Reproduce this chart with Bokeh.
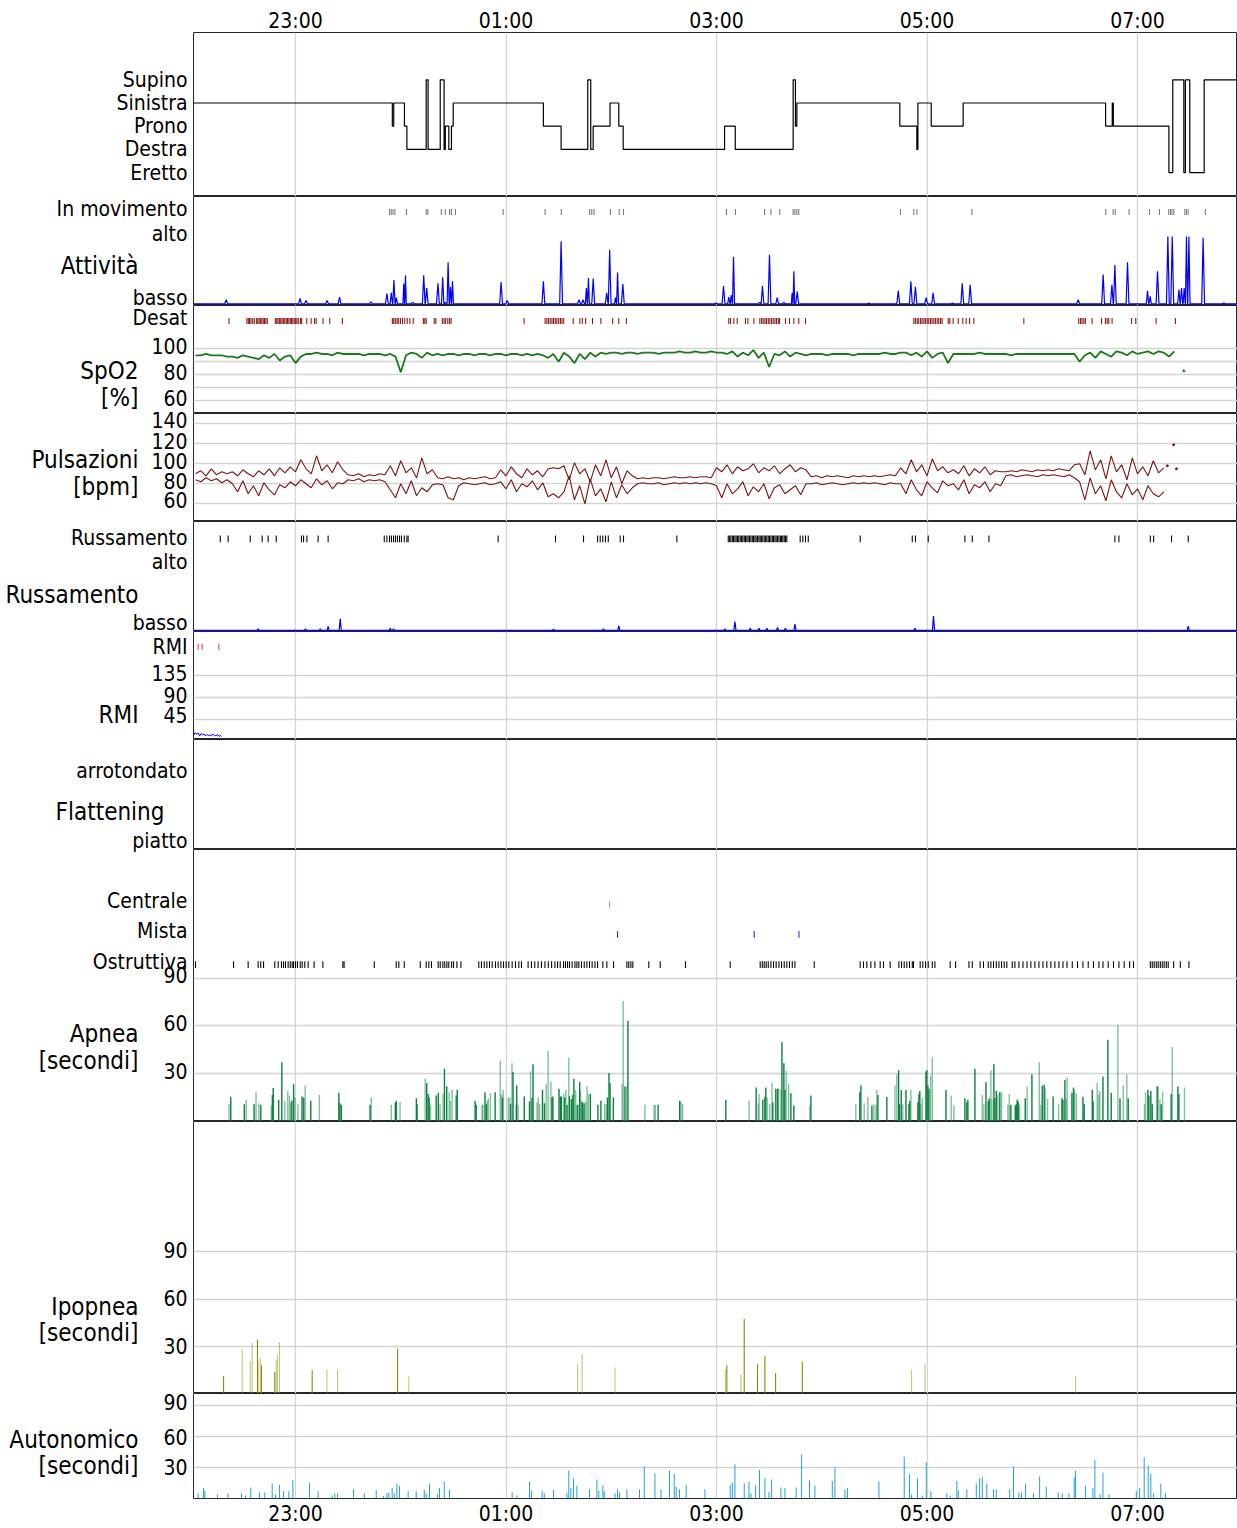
from bokeh.plotting import figure
from bokeh.models import Range1d, FixedTicker
from bokeh.layouts import column, row
from bokeh.embed import file_html
from bokeh.resources import INLINE
from bokeh.core.properties import value

FONT = "DejaVu Sans Condensed"

# ---------------- time axis (minutes after 22:00) ----------------
X_START, X_END = 1.85, 597.0
XTICKS = [60, 180, 300, 420, 540]
XTICK_LABELS = ["23:00", "01:00", "03:00", "05:00", "07:00"]

# ---------------- position ----------------
POS_TICKS = [5, 4, 3, 2, 1]
POS_NAMES = ["Supino", "Sinistra", "Prono", "Destra", "Eretto"]
pos_t = [1.85, 115.2, 116.0, 122.1, 123.5, 134.5, 135.6, 142.5, 144.7, 145.4,
         147.4, 148.9, 149.9, 201.3, 211.4, 226.6, 228.3, 229.7, 239.3, 244.3,
         246.8, 304.6, 310.7, 343.7, 345.0, 345.8, 404.5, 414.2, 414.8, 422.4,
         440.6, 521.8, 525.6, 526.2, 557.9, 560.1, 566.4, 567.3, 569.8, 578.0]
pos_lv = [4, 3, 4, 3, 2, 5, 2, 5, 2, 3,
          2, 3, 4, 3, 2, 5, 2, 3, 4, 3,
          2, 3, 2, 5, 3, 4, 3, 2, 4, 3,
          4, 3, 4, 3, 1, 5, 1, 5, 1, 5]

# ---------------- activity ----------------
move_t = [113.6, 114.6, 115.6, 116.7, 123.3, 134.5, 135.4, 143.1, 145.4, 147.8,
          148.9, 151.2, 178.4, 202.3, 211.5, 227.7, 228.9, 230.2, 239.5, 244.5,
          247.0, 305.7, 310.8, 327.4, 331.0, 336.1, 343.7, 344.7, 345.8, 346.9,
          404.9, 412.5, 414.2, 445.6, 521.9, 526.1, 527.3, 535.2, 546.8, 552.5,
          557.8, 558.8, 559.7, 560.7, 567.0, 567.9, 568.9, 578.7]
act_t = [20.5, 62.6, 66.0, 78.0, 85.1, 103.0, 112.1, 114.6, 116.1, 117.5,
         121.7, 122.7, 126.7, 133.1, 134.8, 141.2, 143.9, 145.4, 147.0, 148.3,
         149.5, 177.2, 180.7, 201.3, 211.4, 221.6, 223.9, 225.8, 227.0, 229.7,
         237.4, 239.1, 242.4, 243.6, 246.6, 299.6, 304.0, 307.0, 308.4, 309.7,
         324.5, 326.2, 330.2, 334.6, 338.4, 343.1, 344.1, 346.0, 386.8, 403.6,
         410.8, 413.4, 419.5, 423.5, 434.5, 440.1, 444.6, 506.2, 520.4, 525.4,
         527.1, 534.3, 545.7, 547.2, 551.4, 557.3, 559.8, 563.6, 565.1, 566.6,
         567.9, 569.3, 577.4, 589.2]
act_v = [0.07, 0.09, 0.06, 0.06, 0.11, 0.04, 0.16, 0.17, 0.36, 0.10,
         0.31, 0.43, 0.03, 0.43, 0.24, 0.31, 0.40, 0.03, 0.62, 0.26,
         0.34, 0.33, 0.06, 0.34, 0.93, 0.07, 0.07, 0.24, 0.39, 0.38,
         0.17, 0.80, 0.10, 0.47, 0.30, 0.02, 0.27, 0.11, 0.14, 0.70,
         0.03, 0.27, 0.73, 0.10, 0.03, 0.17, 0.49, 0.19, 0.02, 0.20,
         0.34, 0.26, 0.10, 0.17, 0.02, 0.31, 0.29, 0.07, 0.44, 0.29,
         0.58, 0.62, 0.20, 0.12, 0.49, 1.0, 1.0, 0.22, 0.24, 0.24,
         1.0, 1.0, 0.98, 0.02]

# ---------------- SpO2 (every 3 min from 3) ----------------
desat_t = [22.1, 32.3, 33.1, 33.8, 34.6, 35.6, 36.5, 37.7, 38.5, 39.2, 40.0, 40.8, 41.6, 42.3, 43.1, 43.9,
           48.5, 49.3, 50.0, 50.8, 51.6, 52.3, 53.1, 53.9, 54.7, 55.4, 56.2, 57.0, 57.7, 58.5, 59.3, 60.1,
           60.8, 61.6, 62.8, 63.5, 66.4, 68.9, 70.8, 71.8, 75.7, 79.5, 86.7,
           115.2, 116.0, 116.9, 117.9, 118.6, 119.8, 121.0, 122.3, 123.7, 125.2, 127.1, 132.9, 133.7, 134.5,
           139.1, 140.0, 143.7, 144.7, 145.6, 146.8, 147.8, 148.7, 190.3,
           202.3, 203.3, 204.2, 205.2, 206.2, 207.1, 208.1, 209.0, 210.0, 211.0, 211.9, 212.9,
           218.3, 222.1, 223.5, 225.4, 229.3, 234.1, 240.8, 244.3, 248.6,
           307.0, 308.0, 309.9, 311.8, 316.5, 317.9, 321.3, 324.7, 325.7, 326.6, 327.6, 328.5, 329.5,
           330.4, 331.4, 332.3, 333.3, 334.2, 335.2, 335.9, 339.3, 341.6, 344.1, 346.9, 350.7,
           412.5, 413.4, 414.4, 415.3, 416.3, 417.2, 418.2, 419.1, 420.1, 421.0, 422.0, 422.9, 423.9,
           424.8, 425.8, 426.7, 427.7, 428.6, 432.1, 433.0, 434.9, 437.8, 440.4, 442.3, 444.2, 446.7,
           475.2, 506.5, 507.5, 508.4, 509.4, 510.3, 514.1, 519.5, 521.7, 522.7, 523.6, 525.5,
           536.6, 539.0, 550.6, 561.6]
spo2_v = [95, 95, 96, 95, 95, 95, 94, 94, 93, 95, 94, 93,
          92, 95, 93, 96, 91, 94, 95, 89, 94,
          96, 96, 97, 96, 96, 95, 97, 96,
          96, 96, 96, 95, 96, 96, 96, 95, 96,
          94, 82, 95, 97, 96, 93, 97, 95,
          96, 95, 96, 96, 95, 96, 96, 95, 96, 96, 95, 96,
          96, 95, 96, 96, 95, 96, 95, 96, 95,
          93, 96, 90, 97, 94, 89, 96, 92, 97, 94,
          97, 96, 97, 97, 96, 97, 97, 96, 97, 97, 97, 96, 97, 97, 97, 98, 97, 97, 98, 97, 97, 98, 97, 97,
          96, 98, 94, 97, 95, 99, 93, 97, 86, 96, 95, 98, 94, 97, 96, 95,
          96, 96, 96, 95, 96, 96, 96, 96, 95, 96, 96, 96, 96, 96, 97, 96, 96, 97, 97,
          95, 97, 94, 98, 93, 96, 97, 89, 96,
          96, 96, 96, 96, 97, 96, 96, 96, 96, 96, 95, 96, 96, 96, 96, 96, 96, 96, 96, 96, 96, 96, 96,
          90, 95, 97, 93, 98, 96, 94, 98, 97, 95, 98, 96, 97, 98, 96, 98, 97, 94, 98]
spo2_stray_t = [566.4]
spo2_stray_v = [83]

# ---------------- pulse (every 3 min from 3) ----------------
pulse_hi = [90, 93, 88, 95, 89, 92, 90,
            92, 88, 94, 90, 87, 93, 89, 95, 88, 96, 91,
            97, 92, 104, 95, 90, 108, 93, 99, 91, 102, 94,
            89, 88, 90, 87, 89, 88, 90, 89,
            98, 88, 103, 91, 96, 86, 106, 90, 94,
            86, 85, 87, 85, 86, 84, 86, 85, 86, 87, 85, 86,
            94, 88, 97, 90, 86, 95, 89, 93, 87,
            95, 96, 95,
            98, 84, 101, 90, 95, 82, 99, 88, 104, 86, 97, 80, 93, 88,
            85, 86, 85, 86, 86, 85, 86, 87, 86, 86, 87, 86, 87, 87, 86,
            96, 92, 99, 90, 97, 93, 95, 100, 91, 96, 93, 98, 90, 95, 99, 92, 96, 94,
            87, 88, 86, 88, 87, 88, 87, 86, 88, 87, 88, 87, 88, 87, 88, 89, 88,
            96, 90, 104, 92, 99, 88, 105, 93, 97, 91,
            94, 90, 98, 88, 95, 91, 97, 89, 93, 92,
            92, 93, 92, 94, 93, 92, 94, 93, 94, 93, 95, 94, 93, 99,
            100, 89, 113, 94, 104, 85, 108, 92, 99, 84, 106, 90, 97, 88, 103, 91, 96]
pulse_lo = [84, 82, 86, 83, 85, 81, 84,
            80, 72, 83, 70, 78, 68, 81, 74, 69, 79, 76,
            82, 78, 84, 80, 76, 85, 79, 83, 75, 81, 80,
            84, 83, 85, 82, 84, 83, 84, 82,
            74, 66, 80, 70, 83, 68, 76, 72, 79,
            80, 79, 66, 64, 78, 81, 80, 79, 80, 81, 79, 80,
            82, 75, 84, 72, 80, 77, 83, 74, 81,
            67, 70, 66,
            72, 88, 64, 78, 60, 85, 68, 75, 62, 82, 66, 79, 70, 76,
            80, 81, 80, 80, 81, 79, 80, 81, 80, 81, 80, 81, 80, 81, 80,
            78, 66, 80, 70, 75, 82, 68, 77, 72, 80, 65, 76, 79, 70, 74, 78, 69, 80,
            80, 81, 79, 80, 81, 80, 79, 80, 81, 80, 81, 80, 81, 80, 79, 81, 80,
            80, 70, 84, 74, 68, 82, 76, 71, 83, 78,
            80, 74, 84, 70, 79, 76, 82, 72, 80, 78,
            88, 89, 87, 88, 89, 88, 87, 89, 88, 89, 88, 87, 89, 86,
            82, 64, 86, 70, 78, 63, 84, 72, 66, 80, 69, 75, 64, 78, 70, 67, 72]
pulse_stray_t = [557.0, 560.6, 562.2]
pulse_stray_v = [98, 119, 95]

# ---------------- snoring ----------------
snore_ev_t = [17.1, 21.6, 34.2, 41.0, 44.4, 49.0, 63.4, 64.6, 66.5, 72.9, 78.6,
              110.6, 112.1, 113.6, 114.7, 115.9, 117.0, 118.1, 119.3, 120.4, 122.0, 123.5, 124.2,
              175.5, 208.2, 224.2, 232.2, 233.7, 235.2, 236.7, 238.3, 245.1, 247.0, 277.4,
              306.7, 307.5, 308.2, 309.0, 309.7, 310.5, 311.2, 312.0, 312.7, 313.5, 314.3, 315.0,
              315.8, 316.5, 317.3, 318.0, 318.8, 319.6, 320.4, 321.1, 321.9, 322.6, 323.4, 324.2,
              324.9, 325.6, 326.4, 327.2, 328.0, 328.7, 329.5, 330.2, 331.0, 331.8, 332.5, 333.3,
              334.0, 334.8, 335.6, 336.4, 337.1, 337.8, 338.6, 339.3, 340.1,
              347.7, 349.2, 350.7, 352.3, 381.9, 411.6, 413.4, 420.7, 441.6, 445.8, 455.3,
              527.1, 529.4, 547.3, 549.2, 559.4, 568.9]
snore_t = [38.7, 65.7, 74.1, 78.6, 85.5, 114.0, 115.9, 207.1, 235.6, 244.3,
           304.8, 310.5, 319.2, 324.2, 328.7, 334.8, 339.3, 344.7, 413.1, 423.7, 568.9]
snore_v = [0.03, 0.03, 0.03, 0.065, 0.18, 0.04, 0.03, 0.025, 0.03, 0.075,
           0.03, 0.14, 0.04, 0.04, 0.04, 0.05, 0.04, 0.10, 0.04, 0.22, 0.07]

# ---------------- RMI ----------------
rmi_ev_t = [4.5, 6.8, 16.3]
rmi_t = [2.0, 2.8, 3.7, 4.5, 5.4, 6.2, 7.1, 7.9, 8.8, 9.6,
         10.5, 11.3, 12.2, 13.0, 13.9, 14.7, 15.6, 16.4, 17.3, 17.9]
rmi_v = [13, 19, 15, 18, 12, 17, 14, 16, 12, 15,
         13, 14, 12, 16, 13, 12, 15, 11, 13, 11]

# ---------------- apnea ----------------
centrale_t = [239.0]
mista_t = [243.6, 321.5, 347.0]
ostruttiva_t = [3.0, 24.7, 33.0, 38.7, 40.2, 41.8, 48.2, 50.1, 52.0, 53.2, 54.3, 55.8, 57.0, 58.1,
                58.9, 60.0, 61.1, 62.7, 63.8, 65.3, 67.2, 70.6, 75.6, 87.0, 87.7, 104.9, 117.4,
                118.9, 122.0, 131.1, 134.5, 136.0, 137.5, 141.3, 142.5, 144.0, 145.1, 146.3,
                147.4, 149.0, 150.1, 152.0, 154.3, 164.5, 166.0, 167.6, 169.1, 170.6, 172.1,
                174.0, 175.5, 177.1, 178.6, 180.1, 181.6, 183.5, 185.4, 187.3, 188.8, 192.6,
                194.5, 196.4, 198.3, 200.2, 202.2, 204.1, 206.0, 207.9, 209.4, 210.9, 212.8,
                213.9, 215.1, 216.2, 217.7, 219.3, 220.4, 221.5, 223.0, 224.6, 226.1, 227.6,
                229.1, 230.7, 232.2, 235.2, 237.5, 241.3, 248.9, 250.0, 251.2, 252.3, 261.4,
                267.9, 282.3, 307.8, 324.9, 326.1, 327.2, 328.3, 329.5, 331.0, 332.5, 334.0,
                335.6, 337.1, 338.6, 340.1, 341.6, 343.2, 344.7, 355.7, 381.9, 383.8, 385.7,
                388.0, 390.3, 393.3, 395.2, 399.0, 404.0, 405.5, 407.0, 408.5, 410.0, 411.6,
                412.3, 416.1, 417.6, 419.2, 420.7, 423.0, 424.5, 433.2, 436.3, 443.9, 445.8,
                450.3, 452.2, 454.9, 456.4, 457.9, 459.5, 461.0, 462.5, 464.0, 465.5, 468.6,
                470.1, 472.4, 474.7, 477.0, 479.2, 481.5, 483.8, 486.1, 488.3, 490.6, 492.9,
                495.2, 497.5, 499.8, 502.8, 505.8, 508.9, 511.9, 514.9, 518.0, 520.3, 523.3,
                526.3, 529.4, 532.4, 535.5, 537.7, 547.3, 548.4, 549.5, 550.7, 551.8, 553.0,
                554.1, 555.2, 556.4, 557.5, 560.6, 564.4, 569.3]
apnea_t = [22.1, 23.1, 30.8, 31.9, 36.4, 37.5, 39.1, 40.2, 46.2, 46.8,
           47.3, 50.4, 52.2, 53.9, 55.6, 56.6, 57.2, 57.9, 58.9, 59.7,
           61.4, 63.7, 64.7, 65.5, 68.7, 73.6, 84.7, 85.3, 86.1, 102.5,
           103.2, 114.6, 116.9, 117.5, 119.6, 128.9, 129.3, 133.9, 134.8, 135.6,
           136.2, 137.0, 140.2, 141.4, 142.4, 144.1, 144.9, 146.2, 147.6, 148.3,
           149.3, 151.6, 152.2, 162.4, 163.0, 166.3, 166.8, 168.0, 168.8, 169.3,
           169.9, 171.1, 173.8, 176.7, 177.4, 178.0, 178.4, 181.3, 182.3, 182.6,
           183.4, 184.0, 185.7, 186.1, 186.9, 190.4, 193.4, 194.0, 194.8, 195.4,
           197.7, 198.4, 199.2, 200.8, 201.9, 202.9, 204.0, 205.6, 206.2, 206.7,
           210.2, 211.0, 211.6, 212.9, 213.5, 214.1, 214.8, 215.8, 216.2, 217.3,
           218.1, 218.7, 219.7, 220.6, 221.4, 222.0, 222.5, 223.3, 223.7, 224.5,
           225.4, 226.2, 227.0, 228.1, 232.4, 234.1, 236.2, 237.2, 237.8, 238.7,
           239.3, 241.2, 246.2, 246.8, 247.8, 248.8, 249.5, 259.2, 264.4, 265.1,
           266.7, 279.0, 279.8, 280.7, 305.3, 318.6, 322.6, 323.8, 324.3, 326.4,
           327.6, 328.1, 328.9, 330.4, 331.6, 332.1, 333.8, 334.8, 335.4, 336.7,
           337.3, 338.4, 339.0, 339.7, 341.1, 342.4, 344.1, 353.2, 353.8, 379.4,
           381.7, 382.3, 384.2, 386.3, 388.6, 389.7, 390.9, 391.4, 392.0, 397.1,
           401.7, 402.8, 403.8, 404.3, 405.3, 406.2, 408.0, 409.7, 410.2, 410.8,
           414.8, 415.4, 415.9, 416.5, 417.3, 419.4, 419.9, 420.5, 421.1, 422.0,
           423.0, 430.8, 433.8, 435.3, 441.6, 442.7, 443.3, 447.3, 451.5, 452.4,
           453.6, 454.9, 455.5, 456.4, 457.0, 458.1, 458.7, 459.5, 460.4, 461.5,
           462.5, 466.1, 466.9, 467.8, 470.3, 470.9, 471.4, 472.0, 472.8, 476.0,
           477.1, 479.8, 484.0, 484.9, 485.7, 486.8, 487.4, 488.7, 491.9, 495.0,
           496.9, 497.5, 498.6, 499.4, 499.9, 502.6, 503.5, 504.1, 505.1, 508.9,
           509.6, 514.2, 514.7, 517.0, 517.8, 518.5, 520.3, 523.1, 525.0, 528.8,
           530.0, 531.9, 533.9, 534.7, 544.0, 544.6, 545.9, 546.5, 547.6, 548.4,
           551.2, 551.8, 552.8, 553.5, 554.3, 559.2, 559.8, 563.0, 563.6, 566.8]
apnea_s = [10.9, 15.5, 10.9, 13.6, 10.9, 18.4, 11.5, 10.5, 10.0, 16.7,
           21.1, 13.6, 37.2, 13.0, 19.2, 16.3, 11.9, 13.0, 23.4, 15.1,
           10.9, 15.7, 15.1, 22.6, 13.0, 16.7, 18.0, 11.5, 10.5, 10.5,
           15.1, 10.5, 11.9, 13.0, 12.3, 14.6, 10.9, 26.8, 24.1, 17.2,
           15.1, 10.5, 16.3, 18.0, 10.9, 17.2, 33.1, 22.2, 18.4, 13.0,
           19.9, 16.3, 19.9, 13.0, 10.5, 10.5, 10.5, 18.4, 10.9, 13.0,
           14.4, 17.8, 18.4, 38.1, 17.2, 15.1, 19.9, 15.1, 15.1, 10.9,
           36.6, 31.0, 10.5, 22.6, 10.5, 15.7, 12.6, 31.4, 14.9, 36.0,
           12.1, 15.1, 10.9, 19.9, 11.5, 23.6, 44.4, 25.1, 15.1, 15.7,
           20.5, 15.7, 15.7, 17.2, 15.1, 19.9, 10.5, 40.2, 15.9, 14.0,
           16.7, 26.8, 19.7, 10.5, 10.5, 24.9, 19.2, 12.6, 11.5, 11.5,
           12.6, 22.2, 17.4, 17.2, 10.5, 13.0, 10.9, 10.9, 15.1, 30.5,
           24.1, 15.1, 23.4, 75.7, 22.0, 22.2, 63.2, 10.5, 10.5, 10.5,
           10.5, 13.0, 12.6, 10.9, 13.6, 13.0, 21.3, 11.5, 17.2, 13.6,
           15.5, 21.3, 15.1, 10.9, 24.1, 12.1, 20.5, 20.5, 20.9, 19.9,
           49.8, 36.6, 19.9, 31.8, 23.4, 17.8, 10.0, 10.0, 16.3, 10.9,
           18.4, 22.6, 11.5, 15.3, 10.0, 10.9, 10.5, 19.7, 16.7, 15.3,
           22.6, 29.7, 32.2, 10.9, 19.7, 10.9, 19.7, 10.9, 13.0, 19.9,
           12.1, 17.2, 19.2, 10.9, 15.1, 31.4, 32.2, 22.6, 20.5, 28.9,
           40.2, 19.7, 16.3, 10.0, 14.6, 12.1, 13.6, 33.1, 16.7, 10.9,
           24.7, 13.0, 14.6, 32.2, 14.2, 36.0, 14.6, 19.2, 16.7, 18.4,
           18.4, 10.5, 17.2, 10.5, 10.0, 10.9, 13.6, 12.6, 10.7, 14.6,
           22.0, 29.7, 37.2, 10.5, 22.4, 23.0, 20.5, 14.2, 15.7, 10.9,
           14.6, 13.6, 26.2, 14.2, 27.8, 18.0, 21.3, 19.9, 17.8, 15.5,
           10.9, 19.9, 12.6, 24.1, 16.7, 19.2, 28.2, 51.3, 18.0, 60.7,
           14.6, 22.6, 29.7, 14.6, 10.9, 18.4, 19.9, 16.3, 19.2, 10.9,
           22.2, 22.0, 14.0, 10.9, 18.4, 17.2, 46.7, 22.0, 17.2, 21.3]
apnea_shade = ("LDDLDLLDLD" "DDDLLLLDDL" "LDDLDLDDDD" "LLDDLDDLDD" "DLDDLLDDLL"
               "LDDDDLLDDL" "LLDLLDLLLD" "LDLDLDDLDD" "LLLDDLLLDD" "DDDLDLDLDD"
               "DDLDLDLDDD" "LLLDDDLLDD" "DDLLDLDLLL" "DDLLDLDLLD" "DDLLLDDDLL"
               "DDDLLDDLDL" "DDLLDLLLDD" "LLDDDLDDDL" "DDDLLDDDDL" "LDLLDDDDLL"
               "DDDLLDDDLD" "LLLDDDDDLD" "LDLLDDLLDL" "DDDLLDDLLD" "DDDLLLDDDL"
               "DLLDLLDDDD" "DLLDLDLDDL")

# ---------------- hypopnea ----------------
hyp_t = [19.0, 29.6, 34.2, 35.3, 38.3, 38.7, 39.9, 40.6, 48.2, 49.0, 49.7, 50.9, 69.5, 77.9, 84.0,
         118.2, 124.6, 220.8, 223.4, 242.1, 305.1, 305.9, 313.9, 315.8, 323.4, 327.6, 333.7,
         348.9, 411.2, 418.8, 504.7]
hyp_s = [11.0, 27.9, 20.7, 32.1, 34.2, 21.1, 22.8, 17.9, 13.7, 21.1, 24.9, 32.7, 14.8, 15.2, 14.8,
         28.5, 11.0, 18.6, 24.9, 16.5, 15.2, 17.9, 12.2, 47.5, 18.6, 23.6, 13.1,
         20.3, 14.8, 18.6, 11.0]
hyp_shade = "DLLLDLLDDLLLDLLDLLLLLDLDDDDDLLL"

# ---------------- autonomic ----------------
auto_t = [4.5, 7.6, 8.3, 15.5, 21.6, 29.2, 31.5, 34.5, 39.5, 42.5,
          46.7, 48.6, 50.9, 53.2, 56.2, 58.5, 68.0, 72.9, 80.9, 82.4,
          84.0, 93.1, 99.2, 106.0, 110.2, 112.1, 113.2, 115.1, 116.3, 117.8,
          119.3, 124.2, 128.8, 133.4, 134.5, 136.4, 141.0, 142.1, 144.8, 147.8,
          183.5, 186.2, 193.4, 194.6, 200.6, 201.8, 207.1, 214.7, 215.8, 217.0,
          218.5, 220.4, 227.6, 231.8, 232.9, 235.2, 236.0, 242.1, 243.6, 244.7,
          248.9, 256.1, 258.8, 264.9, 268.3, 273.2, 275.9, 277.0, 278.9, 282.7,
          293.4, 307.8, 309.0, 310.5, 315.8, 318.5, 319.6, 322.3, 324.5, 327.6,
          329.9, 331.4, 336.7, 339.0, 345.4, 348.5, 353.0, 356.1, 366.0, 367.5,
          373.2, 374.7, 392.6, 407.0, 410.0, 411.2, 414.6, 417.3, 419.6, 422.2,
          431.3, 433.2, 437.0, 437.8, 442.7, 448.1, 450.0, 451.5, 454.1, 457.9,
          459.5, 467.1, 469.3, 472.4, 473.9, 476.2, 480.7, 484.2, 488.0, 494.8,
          497.1, 500.9, 503.9, 504.7, 510.4, 514.6, 515.7, 518.7, 520.3, 523.7,
          539.3, 541.2, 543.8, 546.1, 547.6, 549.2, 553.3, 556.0]
auto_s = [5.0, 10.0, 7.5, 3.8, 5.0, 5.0, 2.8, 10.6, 5.9, 5.9,
          14.4, 3.8, 13.1, 6.9, 6.9, 18.1, 15.3, 6.9, 2.8, 5.0,
          5.0, 8.8, 5.0, 8.1, 2.5, 5.0, 5.9, 10.0, 5.0, 14.4,
          12.2, 6.9, 6.9, 8.4, 5.0, 14.4, 4.4, 10.0, 16.3, 8.1,
          5.9, 2.8, 16.3, 7.5, 7.5, 5.0, 8.1, 5.6, 26.9, 10.0,
          19.4, 12.2, 8.8, 18.4, 7.5, 12.5, 6.9, 5.0, 8.8, 5.9,
          8.8, 8.8, 30.9, 23.8, 8.8, 26.9, 23.8, 11.3, 8.8, 13.1,
          8.8, 13.1, 15.3, 33.1, 14.4, 16.3, 5.0, 12.5, 27.5, 19.4,
          6.3, 18.4, 10.6, 10.0, 10.6, 42.5, 17.5, 12.5, 16.9, 30.0,
          8.8, 10.0, 16.3, 40.3, 23.8, 3.8, 19.4, 2.8, 35.0, 6.9,
          5.0, 2.8, 16.9, 7.5, 8.8, 14.4, 19.4, 20.6, 14.4, 8.8,
          8.8, 8.8, 30.9, 5.9, 5.9, 14.4, 5.0, 21.3, 11.3, 5.9,
          5.0, 5.0, 20.6, 26.9, 12.2, 10.0, 37.2, 4.4, 25.0, 3.8,
          6.9, 10.0, 39.4, 31.9, 23.8, 5.0, 14.4, 5.0]

# =========================================================
XR = Range1d(X_START, X_END)
LEFT_W = 193
DATA_W = 1044
TOTAL_H = 1528
TOP_BORDER = 32
BOTTOM_BORDER = 27
GRID_COLOR = "#d4d4d4"

label_x, label_y, label_text = [], [], []
title_x, title_y, title_text = [], [], []
_cursor = [TOP_BORDER]   # page-pixel top of the next panel frame


def spike_line(ts, vs, t0, t1, base, hw_max):
    xs, ys = [t0], [base]
    n = len(ts)
    for i, (t, v) in enumerate(zip(ts, vs)):
        hw = hw_max
        if i > 0:
            hw = min(hw, (t - ts[i - 1]) * 0.45)
        if i < n - 1:
            hw = min(hw, (ts[i + 1] - t) * 0.45)
        xs += [t - hw, t, t + hw]
        ys += [base, v, base]
    xs.append(t1)
    ys.append(base)
    return xs, ys


def make_panel(frame_h, y0, y1, yt, ylab, grid, title=None, ty=0.0, tx=138, xaxis=None):
    top = _cursor[0]
    _cursor[0] += frame_h

    def to_page(v):
        return top + (y1 - v) / (y1 - y0) * frame_h

    for v, s in zip(yt, ylab):
        label_x.append(187)
        label_y.append(to_page(v))
        label_text.append(s)
    if title:
        title_x.append(tx)
        title_y.append(to_page(ty))
        title_text.append(title)

    btop = TOP_BORDER if xaxis == "above" else 0
    bbot = BOTTOM_BORDER if xaxis == "below" else 0
    p = figure(width=DATA_W, height=frame_h + btop + bbot, x_range=XR, y_range=Range1d(y0, y1),
               output_backend="svg", toolbar_location=None,
               x_axis_location=xaxis, y_axis_location=None,
               min_border_left=0, min_border_right=0,
               min_border_top=btop, min_border_bottom=bbot)
    p.outline_line_color = "#262626"
    p.outline_line_width = 1
    p.background_fill_color = "white"
    p.border_fill_color = "white"
    p.xgrid.ticker = FixedTicker(ticks=XTICKS)
    p.xgrid.grid_line_color = GRID_COLOR
    p.xgrid.grid_line_width = 1.3
    p.ygrid.ticker = FixedTicker(ticks=grid)
    p.ygrid.grid_line_color = GRID_COLOR
    p.ygrid.grid_line_width = 1.3
    if xaxis is not None:
        ax = p.xaxis[0]
        ax.ticker = FixedTicker(ticks=XTICKS)
        ax.major_label_overrides = dict(zip(XTICKS, XTICK_LABELS))
        ax.axis_line_color = None
        ax.major_tick_line_color = None
        ax.minor_tick_line_color = None
        ax.major_tick_out = 0
        ax.major_tick_in = 0
        ax.minor_tick_out = 0
        ax.major_label_text_font = FONT
        ax.major_label_text_font_size = "21px"
        ax.major_label_text_color = "black"
        ax.major_label_standoff = 0 if xaxis == "above" else 3
    return p


def ticks(p, ts, c, h, color, w=0.6):
    p.vbar(x=ts, width=w, bottom=c - h / 2, top=c + h / 2, fill_color=color, line_color=None)


panels = []

# 1 position
p1 = make_panel(164, -0.03, 7.04, POS_TICKS, POS_NAMES, [], xaxis="above")
p1.step(pos_t + [X_END], pos_lv + [pos_lv[-1]], mode="after", line_color="black", line_width=1.2)
panels.append(p1)

# 2 activity
p2 = make_panel(109, -0.015, 1.588, [1.40, 1.03, 0.10], ["In movimento", "alto", "basso"], [],
                title="Attività", ty=0.56)
ticks(p2, move_t, 1.36, 0.085, "#7a7a7a")
ax_, ay_ = spike_line(act_t, act_v, X_START, X_END, 0.01, 0.8)
p2.line(ax_, ay_, line_color="#0000ff", line_width=1.2)
panels.append(p2)

# 3 SpO2
spo2_t = [3 + 3 * i for i in range(len(spo2_v))]
p3 = make_panel(108, 50.2, 133.3, [123.3, 102.5, 82.5, 62.5], ["Desat", "100", "80", "60"],
                [100, 90, 80, 70, 60], title="SpO2\n[%]", ty=72.5)
ticks(p3, desat_t, 121.4, 4.6, "#8b1414")
p3.line(spo2_t, spo2_v, line_color="#1b7a1b", line_width=1.8)
p3.scatter(spo2_stray_t, spo2_stray_v, size=2, color="#1b7a1b")
panels.append(p3)

# 4 pulse
pulse_t = [3 + 3 * i for i in range(len(pulse_hi))]
p4 = make_panel(108, 42.3, 150.3, [144.3, 123.3, 103.3, 83.3, 64.3], ["140", "120", "100", "80", "60"],
                [140, 120, 100, 80, 60], title="Pulsazioni\n[bpm]", ty=90.3)
p4.line(pulse_t, pulse_hi, line_color="#7b1414", line_width=1.1)
p4.line(pulse_t, pulse_lo, line_color="#7b1414", line_width=1.1)
p4.scatter(pulse_stray_t, pulse_stray_v, size=2, color="#7b1414")
panels.append(p4)

# 5 snoring
p5 = make_panel(110, -0.01, 1.632, [1.39, 1.03, 0.12], ["Russamento", "alto", "basso"], [],
                title="Russamento", ty=0.54)
ticks(p5, snore_ev_t, 1.373, 0.1, "black")
sx_, sy_ = spike_line(snore_t, snore_v, X_START, X_END, 0.008, 0.6)
p5.line(sx_, sy_, line_color="#0000ff", line_width=1.2)
panels.append(p5)

# 6 RMI
p6 = make_panel(108, 4.7, 225.6, [194.3, 141.7, 96.7, 53.8], ["RMI", "135", "90", "45"],
                [135, 90, 45], title="RMI", ty=55.8)
ticks(p6, rmi_ev_t, 194.3, 12.3, "#ff3030")
p6.line(rmi_t, rmi_v, line_color="#0000ff", line_width=1)
panels.append(p6)

# 7 flattening
p7 = make_panel(110, 0, 1, [0.718, 0.073], ["arrotondato", "piatto"], [],
                title="Flattening", ty=0.345, tx=164)
panels.append(p7)

# 8 apnea
p8 = make_panel(272, 0, 170.7, [138.1, 119.3, 100.4, 91.7, 62.1, 32.0],
                ["Centrale", "Mista", "Ostruttiva", "90", "60", "30"], [90, 60, 30],
                title="Apnea\n[secondi]", ty=46.5)
ticks(p8, centrale_t, 136.2, 4.2, "#ff70a8")
ticks(p8, mista_t, 117.4, 4.2, "#2020ff")
ticks(p8, ostruttiva_t, 98.4, 4.2, "black")
ad_t = [t for t, c in zip(apnea_t, apnea_shade) if c == "D"]
ad_s = [s for s, c in zip(apnea_s, apnea_shade) if c == "D"]
al_t = [t for t, c in zip(apnea_t, apnea_shade) if c == "L"]
al_s = [s for s, c in zip(apnea_s, apnea_shade) if c == "L"]
p8.vbar(x=al_t, top=al_s, bottom=0, width=0.8, fill_color="#1a8c4e", fill_alpha=0.55, line_color=None)
p8.vbar(x=ad_t, top=ad_s, bottom=0, width=0.8, fill_color="#0d8040", line_color=None)
panels.append(p8)

# 9 hypopnea
p9 = make_panel(272, 0, 172.9, [91.5, 60.4, 30.5], ["90", "60", "30"], [90, 60, 30],
                title="Ipopnea\n[secondi]", ty=46.6)
hd_t = [t for t, c in zip(hyp_t, hyp_shade) if c == "D"]
hd_s = [s for s, c in zip(hyp_s, hyp_shade) if c == "D"]
hl_t = [t for t, c in zip(hyp_t, hyp_shade) if c == "L"]
hl_s = [s for s, c in zip(hyp_s, hyp_shade) if c == "L"]
p9.vbar(x=hl_t, top=hl_s, bottom=0, width=0.6, fill_color="#9a9a20", fill_alpha=0.6, line_color=None)
p9.vbar(x=hd_t, top=hd_s, bottom=0, width=0.6, fill_color="#858500", line_color=None)
panels.append(p9)

# 10 autonomic
p10 = make_panel(108, 0, 101.2, [92.8, 60.9, 31.9], ["90", "60", "30"], [90, 60, 30],
                 title="Autonomico\n[secondi]", ty=45.3, xaxis="below")
p10.vbar(x=auto_t, top=auto_s, bottom=0, width=0.55, fill_color="#1a9fd6", line_color=None)
panels.append(p10)

# left label column (page-pixel coordinates, y downward)
left = figure(width=LEFT_W, height=TOTAL_H, x_range=Range1d(0, LEFT_W), y_range=Range1d(TOTAL_H, 0),
              output_backend="svg", toolbar_location=None,
              x_axis_location=None, y_axis_location=None,
              min_border_left=0, min_border_right=0, min_border_top=0, min_border_bottom=0)
left.outline_line_color = None
left.grid.visible = False
left.background_fill_color = "white"
left.border_fill_color = "white"
left.text(x=label_x, y=label_y, text=label_text, text_align="right", text_baseline="middle",
          text_font=value(FONT), text_font_size="21px", text_color="black")
left.text(x=title_x, y=title_y, text=title_text, text_align="right", text_baseline="middle",
          text_font=value(FONT), text_font_size="24px", text_color="black", text_line_height=0.95)

layout = row(left, column(*panels, spacing=0), spacing=0)
open("out.html", "w").write(file_html(layout, INLINE, title="Sleep study"))
